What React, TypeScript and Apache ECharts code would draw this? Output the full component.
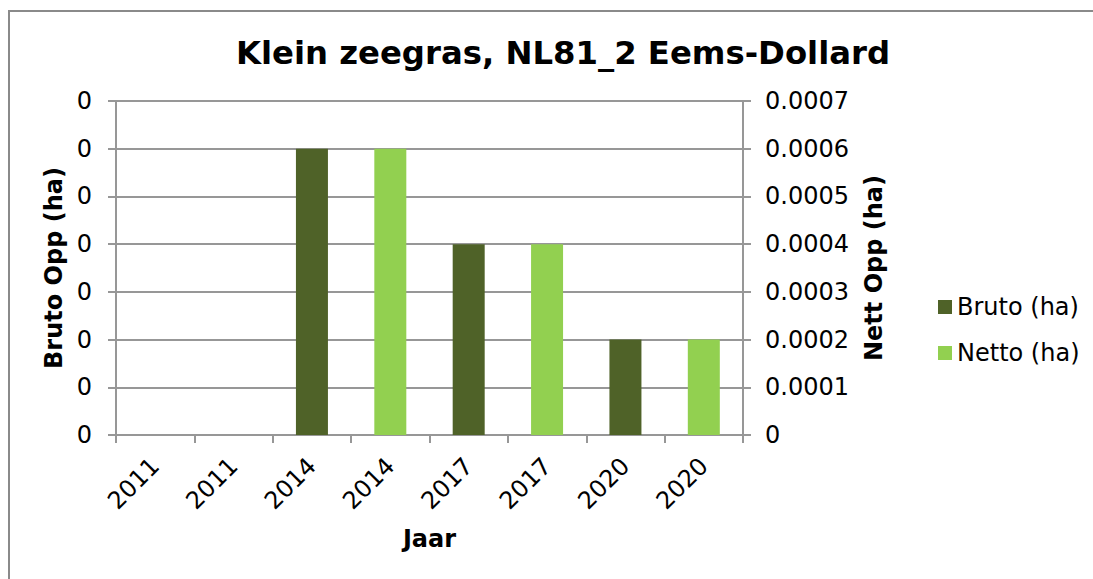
import React, { useEffect, useRef } from "react";
import * as echarts from "echarts";

const categories = ["2011", "2011", "2014", "2014", "2017", "2017", "2020", "2020"];
const brutoValues = [null, null, 0.0006, null, 0.0004, null, 0.0002, null];
const nettoValues = [null, null, null, 0.0006, null, 0.0004, null, 0.0002];
const axisMax = 0.0007;
const axisInterval = 0.0001;

const FONT = 'Verdana, "DejaVu Sans", sans-serif';
const GRAY = "#979797";

export default function App() {
  const ref = useRef<HTMLDivElement>(null);
  useEffect(() => {
    if (!ref.current) return;
    const chart = echarts.init(ref.current, null, { renderer: "svg" });
    chart.setOption({
      animation: false,
      backgroundColor: "#ffffff",
      textStyle: { fontFamily: FONT },
      title: {
        text: "Klein zeegras, NL81_2 Eems-Dollard",
        left: 558,
        top: 32,
        textAlign: "center",
        textStyle: { fontFamily: FONT, fontWeight: "bold", fontSize: 32.3, color: "#000" },
      },
      graphic: [
        {
          type: "rect",
          shape: { x: 9, y: 11, width: 1300, height: 1000 },
          style: { fill: "none", stroke: "#8a8a8a", lineWidth: 2 },
          silent: true,
          z: -1,
        },
      ],
      legend: {
        orient: "vertical",
        left: 933,
        top: 290,
        itemWidth: 14,
        itemHeight: 14,
        itemGap: 22,
        icon: "rect",
        textStyle: { fontFamily: FONT, fontSize: 24, color: "#000", lineHeight: 24 },
        data: ["Bruto (ha)", "Netto (ha)"],
      },
      grid: { left: 116, right: 350, top: 101, bottom: 144, containLabel: false },
      xAxis: {
        type: "category",
        data: categories,
        name: "Jaar",
        nameLocation: "middle",
        nameGap: 92,
        nameTextStyle: { fontFamily: FONT, fontWeight: "bold", fontSize: 24, color: "#000" },
        axisLine: { show: true, lineStyle: { color: GRAY, width: 2 } },
        axisTick: { show: true, length: 8, inside: false, lineStyle: { color: GRAY, width: 2 } },
        axisLabel: { rotate: 45, margin: 27, fontFamily: FONT, fontSize: 24, color: "#000" },
      },
      yAxis: [
        {
          type: "value",
          min: 0,
          max: axisMax,
          interval: axisInterval,
          name: "Bruto Opp (ha)",
          nameLocation: "middle",
          nameRotate: 90,
          nameGap: 47,
          nameTextStyle: { fontFamily: FONT, fontWeight: "bold", fontSize: 24, color: "#000" },
          axisLine: { show: true, lineStyle: { color: GRAY, width: 2 } },
          axisTick: { show: true, length: 8, inside: false, lineStyle: { color: GRAY, width: 2 } },
          axisLabel: {
            margin: 24,
            fontFamily: FONT,
            fontSize: 24,
            color: "#000",
            formatter: (v: number) => String(Math.round(v)),
          },
          splitLine: { show: true, lineStyle: { color: GRAY, width: 2 } },
        },
        {
          type: "value",
          position: "right",
          min: 0,
          max: axisMax,
          interval: axisInterval,
          name: "Nett Opp (ha)",
          nameLocation: "middle",
          nameRotate: 90,
          nameGap: 119,
          nameTextStyle: { fontFamily: FONT, fontWeight: "bold", fontSize: 24, color: "#000" },
          axisLine: { show: true, lineStyle: { color: GRAY, width: 2 } },
          axisTick: { show: true, length: 8, inside: false, lineStyle: { color: GRAY, width: 2 } },
          axisLabel: {
            margin: 22,
            fontFamily: FONT,
            fontSize: 24,
            color: "#000",
            formatter: (v: number) => (v === 0 ? "0" : v.toFixed(4)),
          },
          splitLine: { show: false },
        },
      ],
      series: [
        {
          name: "Bruto (ha)",
          type: "bar",
          yAxisIndex: 0,
          data: brutoValues,
          barWidth: 32,
          barGap: "-100%",
          itemStyle: { color: "#4F6228" },
        },
        {
          name: "Netto (ha)",
          type: "bar",
          yAxisIndex: 1,
          data: nettoValues,
          barWidth: 32,
          barGap: "-100%",
          itemStyle: { color: "#92D050" },
        },
      ],
    });
    return () => chart.dispose();
  }, []);
  return (
    <div
      ref={ref}
      style={{ position: "fixed", left: 0, top: 0, width: 1093, height: 579, background: "#fff" }}
    />
  );
}
